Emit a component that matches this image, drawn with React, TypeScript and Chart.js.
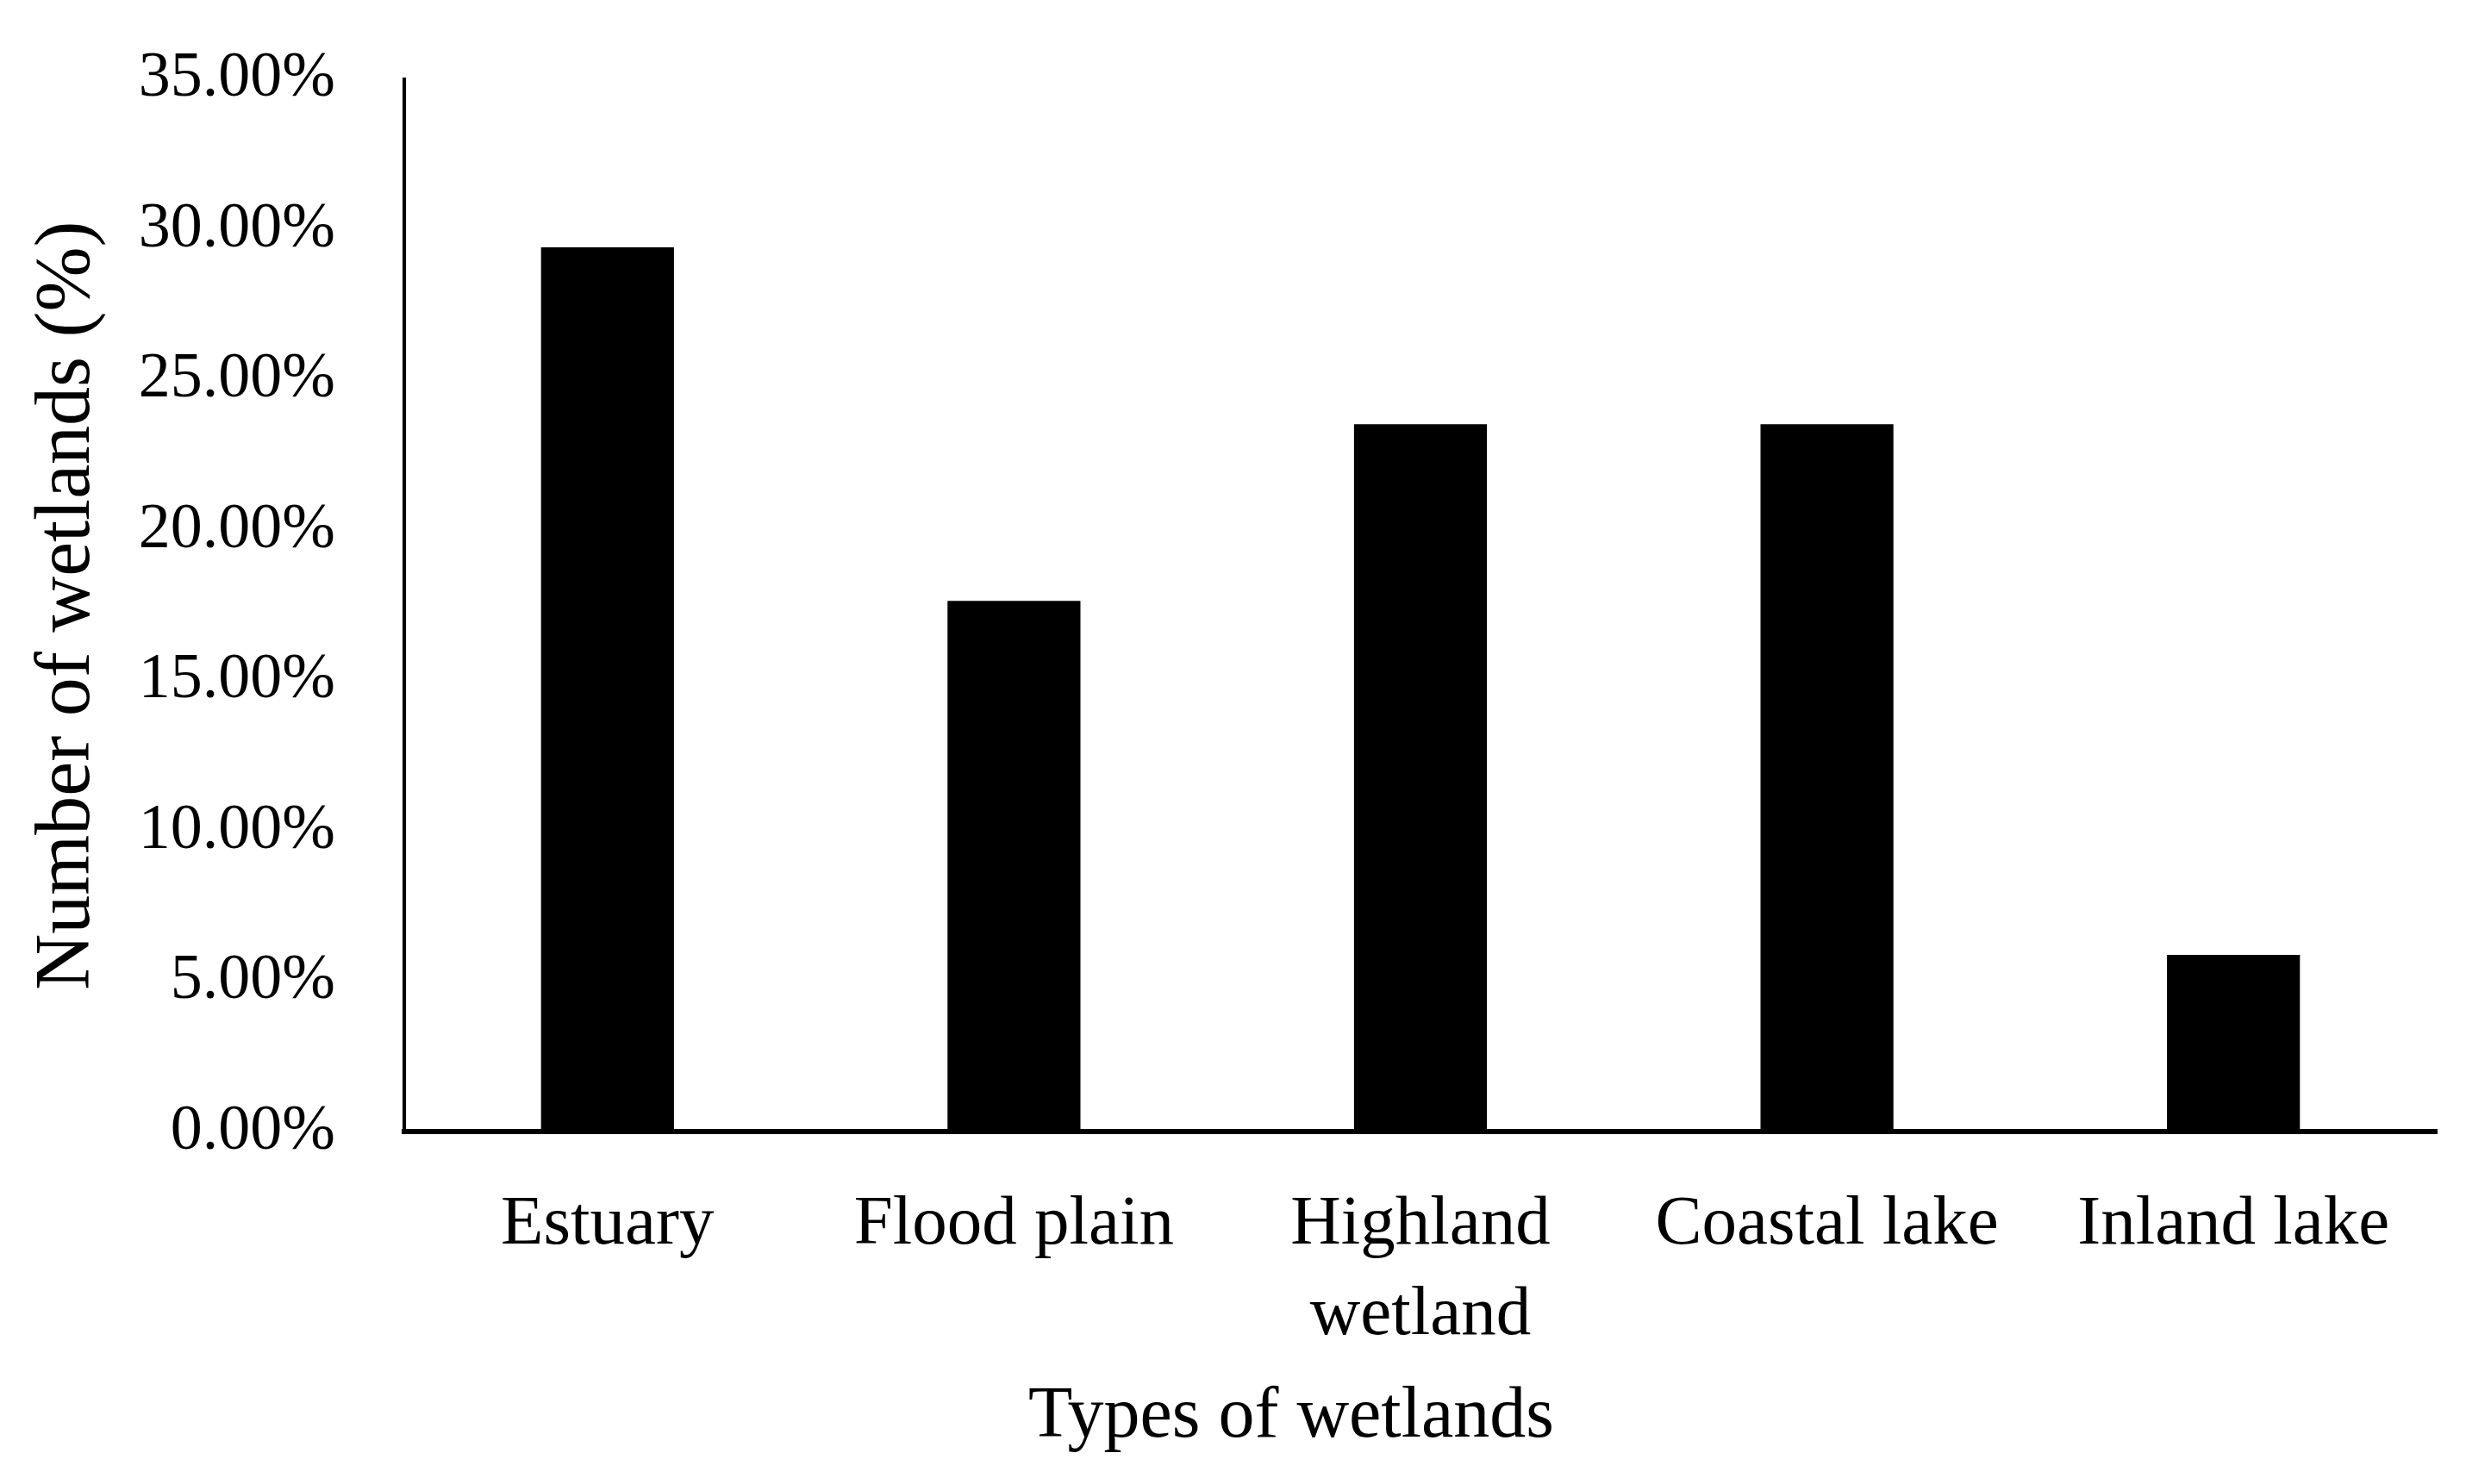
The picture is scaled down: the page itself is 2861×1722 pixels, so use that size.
import React, { useEffect, useRef } from "react";
import { Chart, registerables } from "chart.js";

Chart.register(...registerables);

const categories: (string | string[])[] = ["Estuary", "Flood plain", ["Highland", "wetland"], "Coastal lake", "Inland lake"];
const shares: number[] = [29.41, 17.65, 23.53, 23.53, 5.88];
const yTicks: number[] = [0, 5, 10, 15, 20, 25, 30, 35];
const xTitle = "Types of wetlands";
const yTitle = "Number of wetlands (%)";

const FONT = "'Liberation Serif', 'Times New Roman', serif";

export default function App() {
  const ref = useRef<HTMLCanvasElement | null>(null);
  useEffect(() => {
    if (!ref.current) return;
    const chart = new Chart(ref.current, {
      type: "bar",
      data: {
        labels: categories,
        datasets: [
          {
            data: shares,
            backgroundColor: "#000000",
            borderWidth: 0,
            barPercentage: 0.327,
            categoryPercentage: 1.0,
            yAxisID: "y",
          },
        ],
      },
      options: {
        animation: false,
        responsive: true,
        maintainAspectRatio: false,
        layout: { padding: { top: 92, right: 25, left: 160, bottom: 0 } },
        plugins: {
          legend: { display: false },
          tooltip: { enabled: false },
          title: {
            display: true,
            position: "bottom",
            text: xTitle,
            color: "#000",
            font: { family: FONT, size: 84, weight: "normal", lineHeight: 1.2 },
            padding: { top: 0, bottom: 27 },
          },
        },
        scales: {
          x: {
            grid: { display: false, drawTicks: false },
            border: { display: true, color: "#000", width: 6 },
            ticks: {
              color: "#000",
              font: { family: FONT, size: 81, lineHeight: 1.3 },
              padding: 56,
              maxRotation: 0,
              autoSkip: false,
            },
            afterFit: (s: any) => {
              s.height = 281;
            },
          },
          y: {
            min: 0,
            max: 35,
            afterBuildTicks: (s: any) => {
              s.ticks = yTicks.map((v) => ({ value: v }));
            },
            grid: {
              display: true,
              drawOnChartArea: false,
              drawTicks: true,
              tickLength: 75,
              tickColor: "rgba(0,0,0,0)",
            },
            border: { display: true, color: "#000", width: 4 },
            ticks: {
              color: "#000",
              font: { family: FONT, size: 74 },
              padding: 5,
              callback: (v: any) => Number(v).toFixed(2) + "%",
            },
            title: {
              display: true,
              text: yTitle,
              color: "#000",
              font: { family: FONT, size: 90, lineHeight: 1.2 },
              padding: { top: -135, bottom: 0 },
            },
            afterFit: (s: any) => {
              s.width = 309;
            },
          },
          y2: {
            position: "right",
            min: 0,
            max: 35,
            grid: { display: false, drawTicks: false },
            border: { display: false },
            ticks: { display: false },
            afterFit: (s: any) => {
              s.width = 9;
            },
          },
        },
      },
    });
    return () => chart.destroy();
  }, []);
  return (
    <div style={{ position: "fixed", left: 0, top: 0, width: 2861, height: 1722, background: "#fff" }}>
      <canvas ref={ref} />
    </div>
  );
}
